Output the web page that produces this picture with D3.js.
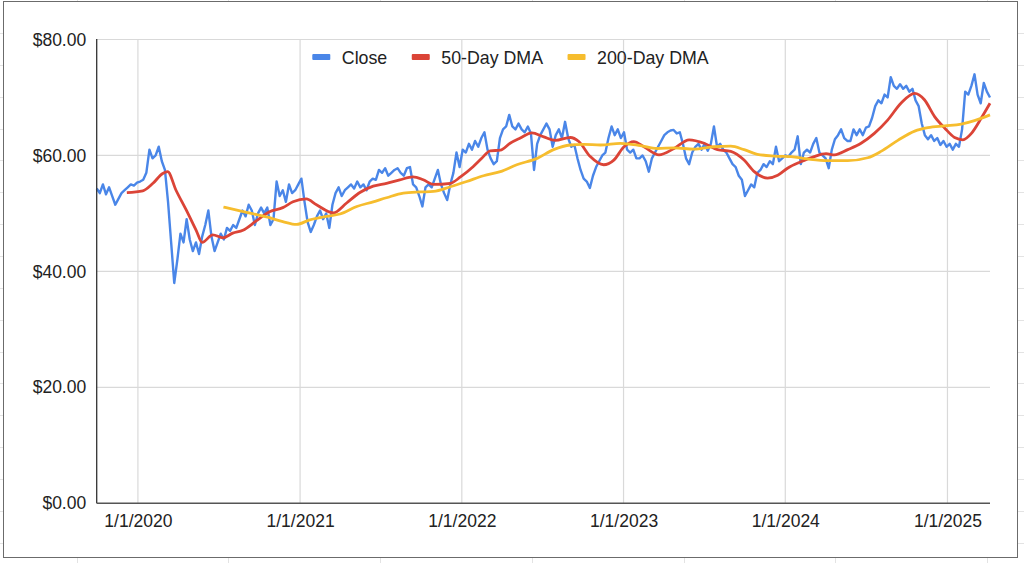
<!DOCTYPE html>
<html><head><meta charset="utf-8">
<script src="https://cdn.jsdelivr.net/npm/d3@7"></script>
<style>
html,body{margin:0;padding:0;background:#fff;}
svg{display:block;font-family:"Liberation Sans",Arial,sans-serif;}
</style></head>
<body><svg id="c" width="1024" height="563"></svg>
<script>
// ---- data ----
const closeStart = "2019-09-30";
const closeStepDays = 7;
const closeValues = [
54.3,53.5,55,53.3,54.5,53,51.5,52.5,53.5,54,54.5,55,54.8,55.3,55.5,55.8,57,61,59.5,60,61.5,59,57.5,52,45,38,42,46.5,45,49,45.5,43.5,45,43,46,48,50.5,46,43.5,45,46.5,45.5,47.5,47,48,47.5,49,50.5,49.5,51.5,
50.5,48,50,51,50,51,48,49,55.5,53,54,52,55,53.5,54,55,56,52,48.5,46.8,48,49.5,50.5,49,50,47.5,51.5,53.5,54.5,53,54,54.5,55,54.3,55.5,54.5,55,54,55.5,56,55.8,57.5,57,57.8,56.5,57,
57.5,57.8,57,56.5,57.8,58,55,54.5,53,51.2,54.5,55,54.5,56,57.5,55,53.5,52.3,55,57,60.5,58,61,60.5,62,61,62.5,61.5,63,64,61,59.5,58.5,59,63,64.5,65,67,65,64.5,65.5,64.5,64,65,63.8,57.5,62,63.5,64.5,65.5,64.5,
61.5,63.5,64.5,63,65.8,63,61.5,61.8,59.5,57.5,56,55.5,54.4,56.5,58,59,60,60.5,63,65,63.5,64.5,63,64,61,60.5,61,59.5,59.5,60,59,57.2,59.5,60.5,61.5,62.5,63.5,64,64.3,64.4,63.8,64,62,59.5,58.5,60.5,61.5,62,
61,62,60.8,62,65,61.5,62,61,60.5,59.5,58.5,58,56.5,55.8,53,54,55,54.5,57,57.5,58.5,58,59,58.5,61.5,59,59.5,60,59.8,60.5,61,63.3,58.5,60.5,61,60.5,62,63,60.5,60,59.5,57.8,61,62.8,63.5,64.5,63,62.5,
62.5,64.5,63.5,64.5,63.5,64.8,65,66.5,68.5,69.5,69,70.5,70,73.5,72,71.5,72.3,71.5,72,71,71.5,69.5,68.5,65.5,63.5,62.8,63.5,62.5,63,61.8,62.5,61.5,62,61,62,61.5,64.5,71,70.5,72,74,70.5,69,72.5,71,70
];
const dma50Dates = ["2019-12-07","2020-01-12","2020-02-04","2020-02-26","2020-03-08","2020-03-27","2020-04-19","2020-05-12","2020-05-25","2020-06-18","2020-07-11","2020-08-02","2020-08-25","2020-09-24","2020-10-24","2020-11-23","2020-12-16","2021-01-15","2021-02-07","2021-03-17","2021-04-16","2021-05-16","2021-06-15","2021-07-15","2021-08-14","2021-09-13","2021-10-06","2021-10-29","2021-12-06","2021-12-29","2022-01-27","2022-02-15","2022-03-06","2022-03-29","2022-04-20","2022-05-13","2022-06-08","2022-07-05","2022-07-31","2022-09-03","2022-09-22","2022-10-18","2022-11-17","2022-12-10","2023-01-02","2023-01-24","2023-02-16","2023-03-22","2023-04-25","2023-05-29","2023-07-02","2023-08-01","2023-08-31","2023-09-30","2023-10-23","2023-11-22","2023-12-15","2024-01-06","2024-02-05","2024-03-06","2024-04-02","2024-04-21","2024-05-21","2024-06-20","2024-07-20","2024-08-19","2024-09-18","2024-10-19","2024-11-10","2024-12-03","2024-12-26","2025-01-17","2025-02-05","2025-02-24","2025-03-18","2025-04-07"];
const dma50Values = [53.6,53.9,55.2,56.9,57.2,54.0,50.6,47.0,45.0,46.3,45.8,46.6,47.1,48.7,50.3,51.0,52.0,52.5,51.5,50.1,51.8,53.6,54.7,55.2,55.8,56.3,55.8,55.0,55.2,56.3,58.1,59.5,60.8,60.9,62.1,63.0,63.9,63.2,62.6,63.1,62.4,59.8,58.4,59.2,61.5,62.4,61.5,60.1,61.2,62.7,62.1,61.0,60.7,59.2,57.2,56.1,56.6,57.8,58.9,59.8,60.3,60.1,61.0,62.1,63.8,66.1,69.0,70.7,69.6,66.7,64.7,63.1,62.7,63.8,66.4,69.0];
const dma200Dates = ["2020-07-12","2020-09-02","2020-10-17","2020-11-23","2020-12-24","2021-01-23","2021-03-02","2021-04-01","2021-05-09","2021-06-15","2021-07-15","2021-08-22","2021-09-29","2021-10-29","2021-12-06","2022-01-12","2022-02-19","2022-03-29","2022-05-05","2022-06-20","2022-07-27","2022-09-03","2022-10-03","2022-11-10","2022-12-25","2023-02-08","2023-03-18","2023-04-25","2023-06-09","2023-07-24","2023-08-31","2023-09-30","2023-10-30","2023-12-07","2024-01-14","2024-02-20","2024-04-06","2024-05-21","2024-07-05","2024-08-04","2024-09-11","2024-10-19","2024-11-18","2024-12-26","2025-02-01","2025-03-03","2025-04-07"];
const dma200Values = [51.1,50.2,49.4,48.6,48.1,48.9,49.5,49.9,51.2,52.0,52.7,53.5,53.7,53.8,54.6,55.5,56.5,57.2,58.4,59.5,61.0,61.8,61.9,61.8,62.1,61.7,61.2,61.3,61.1,61.5,61.6,61.0,60.2,59.9,59.8,59.4,59.1,59.1,59.6,60.7,62.6,64.2,64.8,65.1,65.4,66.0,67.0];
const yTicks = [0,20,40,60,80];
const xTickYears = [2020,2021,2022,2023,2024,2025];
const seriesNames = ["Close","50-Day DMA","200-Day DMA"];
const seriesColors = ["#4A86E8","#DB4437","#F6BD2E"];

// ---- build ----
const parse = d3.utcParse("%Y-%m-%d");
const start = parse(closeStart);
const close = closeValues.map((v,i)=>({d:d3.utcDay.offset(start,i*closeStepDays),v}));
const dma50 = dma50Dates.map((s,i)=>({d:parse(s),v:dma50Values[i]}));
const dma200 = dma200Dates.map((s,i)=>({d:parse(s),v:dma200Values[i]}));

const svg = d3.select("#c");
const W=1024,H=563;
const L=96.7,R=990,T=39.5,B=503.3;

// spreadsheet background grid
const bg = svg.append("g").attr("stroke","#e3e3e3").attr("stroke-width",1);
for(let k=0;k<17;k++){const yy=Math.round(33+31.85*k)+0.5; bg.append("line").attr("x1",0).attr("x2",W).attr("y1",yy).attr("y2",yy);}
for(let k=0;k<7;k++){const xx=Math.round(76.7+151.7*k)+0.5; bg.append("line").attr("x1",xx).attr("x2",xx).attr("y1",0).attr("y2",H);}
// chart box
svg.append("rect").attr("x",3.5).attr("y",1.5).attr("width",1014).attr("height",556)
  .attr("fill","#fff").attr("stroke","#6b6b6b").attr("stroke-width",1);

const x = d3.scaleUtc().domain([close[0].d, close[close.length-1].d]).range([L,R]);
const y = d3.scaleLinear().domain([0,80]).range([B,T]);

const xTicks = xTickYears.map(yr=>new Date(Date.UTC(yr,0,1)));
// gridlines
const grid = svg.append("g").attr("stroke","#d9d9d9").attr("stroke-width",1.2);
grid.selectAll(".h").data(yTicks.filter(t=>t>0)).join("line")
  .attr("x1",L).attr("x2",R).attr("y1",d=>y(d)).attr("y2",d=>y(d));
grid.selectAll(".v").data(xTicks).join("line")
  .attr("x1",d=>x(d)).attr("x2",d=>x(d)).attr("y1",T).attr("y2",B);

// axes
const fmtY = d=>"$"+d3.format(".2f")(d);
const fmtX = d3.utcFormat("%-m/%-d/%Y");
const ya = svg.append("g").attr("transform",`translate(${L},0)`)
  .call(d3.axisLeft(y).tickValues(yTicks).tickFormat(fmtY).tickSize(0).tickPadding(10.5));
ya.select(".domain").remove();
ya.selectAll("text").attr("font-size",17.5).attr("fill","#222").attr("font-family","Liberation Sans, Arial, sans-serif");
const xa = svg.append("g").attr("transform",`translate(0,${B})`)
  .call(d3.axisBottom(x).tickValues(xTicks).tickFormat(fmtX).tickSize(0).tickPadding(11));
xa.select(".domain").remove();
xa.selectAll("text").attr("font-size",17.5).attr("fill","#222").attr("font-family","Liberation Sans, Arial, sans-serif");

// lines
const line = d3.line().x(d=>x(d.d)).y(d=>y(d.v));
svg.append("path").datum(close).attr("d",line).attr("fill","none")
  .attr("stroke",seriesColors[0]).attr("stroke-width",2.4).attr("stroke-linejoin","round");
const smooth = d3.line().x(d=>x(d.d)).y(d=>y(d.v)).curve(d3.curveMonotoneX);
svg.append("path").datum(dma50).attr("d",smooth).attr("fill","none")
  .attr("stroke",seriesColors[1]).attr("stroke-width",2.8).attr("stroke-linejoin","round");
svg.append("path").datum(dma200).attr("d",smooth).attr("fill","none")
  .attr("stroke",seriesColors[2]).attr("stroke-width",2.8).attr("stroke-linejoin","round");

// axis lines
svg.append("line").attr("x1",L).attr("x2",L).attr("y1",T-0.5).attr("y2",B).attr("stroke","#333").attr("stroke-width",1.3);
svg.append("line").attr("x1",L).attr("x2",R).attr("y1",B).attr("y2",B).attr("stroke","#555").attr("stroke-width",1.6);

// legend
const lg = svg.append("g");
const items = seriesNames.map((n,i)=>{
  const g = lg.append("g");
  g.append("rect").attr("width",18).attr("height",6).attr("y",-3).attr("fill",seriesColors[i]).attr("rx",1);
  const t = g.append("text").attr("x",29.5).attr("y",6.5).attr("font-size",17.8).attr("fill","#222").text(n);
  return {g, w:29.5+t.node().getComputedTextLength()};
});
const gap = 24.5;
const total = d3.sum(items,d=>d.w)+gap*(items.length-1);
let cx = 510.5 - total/2;
items.forEach(it=>{it.g.attr("transform",`translate(${cx},57)`); cx += it.w+gap;});
</script></body></html>
